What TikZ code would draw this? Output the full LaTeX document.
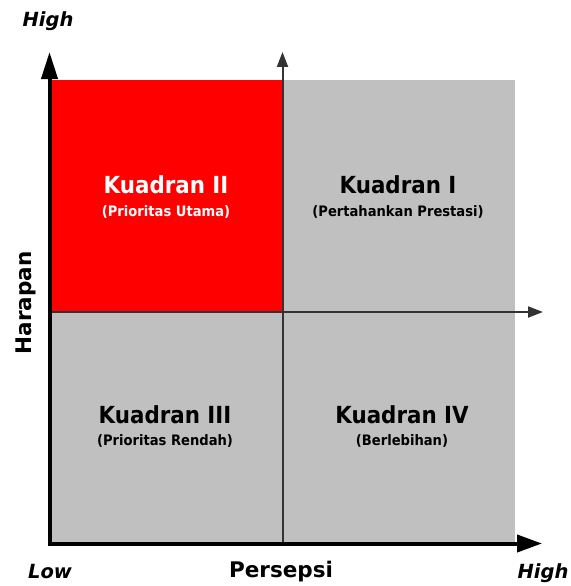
\documentclass[tikz,border=0pt]{standalone}
\usepackage{fontspec}
\setmainfont{DejaVu Sans}
\newfontfamily\quadfont[FakeStretch=0.91]{DejaVu Sans}
\usetikzlibrary{arrows.meta}
\definecolor{quadgray}{HTML}{C0C0C0}
\definecolor{quadred}{HTML}{FF0000}
\begin{document}
\begin{tikzpicture}[x=1pt,y=-1pt,
  quadtitle/.style={font=\quadfont\fontsize{23.5}{26}\selectfont\bfseries, anchor=base, inner sep=0},
  quadsub/.style={font=\quadfont\fontsize{14.4}{17}\selectfont\bfseries, anchor=base, inner sep=0},
  axistitle/.style={font=\fontsize{21.5}{24}\selectfont\bfseries, anchor=base, inner sep=0},
  endlabel/.style={font=\fontsize{19.5}{22}\selectfont\bfseries\itshape, anchor=base, inner sep=0},
  mainaxis/.style={line width=4pt, line join=miter,
    {Triangle[length=27pt,width=16pt]}-{Triangle[length=25pt,width=17pt]}},
  divider/.style={line width=2pt, draw=black!80, -{Triangle[length=15pt,width=11pt]}}
]
\useasboundingbox (0,0) rectangle (570,586);

% quadrant fields
\fill[quadgray] (51,80) rectangle (515,543);
\fill[quadred] (51,80) rectangle (282.5,312);

% axis end points
\coordinate (O) at (49.5,543.5);
\coordinate (ytop) at (49.5,52);
\coordinate (xend) at (542,543.5);
\coordinate (mbot) at (282.5,543);
\coordinate (mtop) at (282.5,52);
\coordinate (mleft) at (51,312);
\coordinate (mright) at (543,312);

% dividing lines
\draw[divider] (mbot) -- (mtop);
\draw[divider] (mleft) -- (mright);

% main axes
\draw[mainaxis] (ytop) -- (O) -- (xend);

% quadrant labels
\node[quadtitle, text=white] (q2) at (166,193) {Kuadran II};
\node[quadsub, text=white] (q2s) at (166,216) {(Prioritas Utama)};
\node[quadtitle] (q1) at (398,193) {Kuadran I};
\node[quadsub] (q1s) at (398,216) {(Pertahankan Prestasi)};
\node[quadtitle] (q3) at (165,423) {Kuadran III};
\node[quadsub] (q3s) at (165,445) {(Prioritas Rendah)};
\node[quadtitle] (q4) at (402,423) {Kuadran IV};
\node[quadsub] (q4s) at (402,445) {(Berlebihan)};

% axis titles and ends
\node[axistitle] (xt) at (281,577) {Persepsi};
\node[axistitle, rotate=90] (yt) at (31.5,303) {Harapan};
\node[endlabel] (yhigh) at (48,27) {High};
\node[endlabel] (xlow) at (50,578) {Low};
\node[endlabel] (xhigh) at (543,578) {High};
\end{tikzpicture}
\end{document}
